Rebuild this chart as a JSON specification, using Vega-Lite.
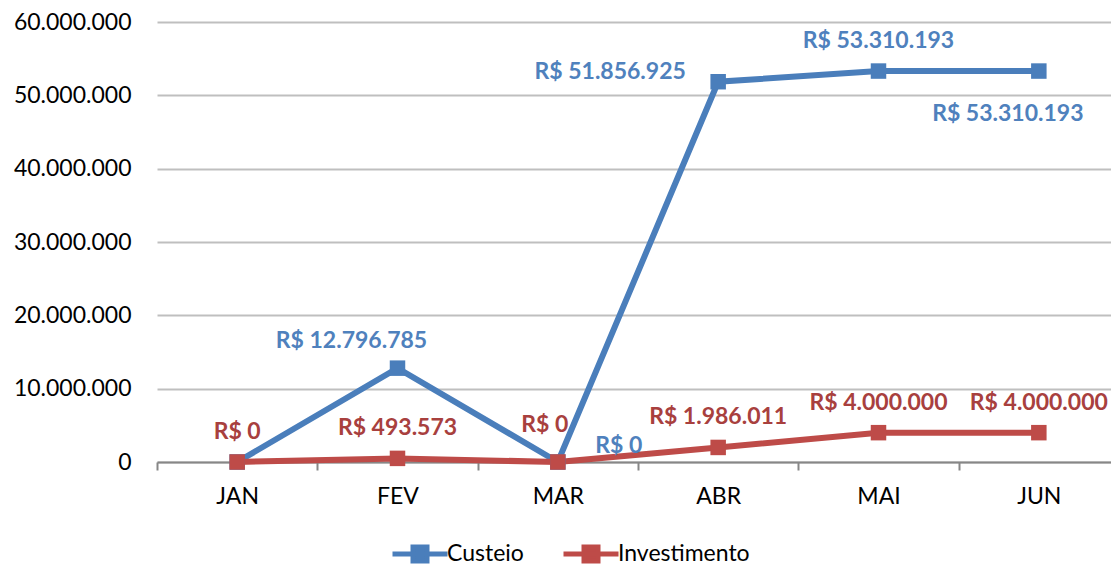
{
  "$schema": "https://vega.github.io/schema/vega-lite/v6.json",
  "autosize": "none",
  "width": 954,
  "height": 440,
  "padding": {"left": 157, "top": 22, "right": 0, "bottom": 102},
  "background": "white",
  "config": {
    "locale": {"number": {"decimal": ",", "thousands": ".", "grouping": [3], "currency": ["R$ ", ""]}},
    "view": {"stroke": null},
    "font": "Lato"
  },
  "data": {
    "values": [
      {"mes": "JAN", "serie": "Custeio", "valor": 0},
      {"mes": "FEV", "serie": "Custeio", "valor": 12796785},
      {"mes": "MAR", "serie": "Custeio", "valor": 0},
      {"mes": "ABR", "serie": "Custeio", "valor": 51856925},
      {"mes": "MAI", "serie": "Custeio", "valor": 53310193},
      {"mes": "JUN", "serie": "Custeio", "valor": 53310193},
      {"mes": "JAN", "serie": "Investimento", "valor": 0},
      {"mes": "FEV", "serie": "Investimento", "valor": 493573},
      {"mes": "MAR", "serie": "Investimento", "valor": 0},
      {"mes": "ABR", "serie": "Investimento", "valor": 1986011},
      {"mes": "MAI", "serie": "Investimento", "valor": 4000000},
      {"mes": "JUN", "serie": "Investimento", "valor": 4000000}
    ]
  },
  "encoding": {
    "x": {
      "field": "mes", "type": "nominal",
      "sort": ["JAN", "FEV", "MAR", "ABR", "MAI", "JUN"],
      "scale": {"paddingInner": 0, "paddingOuter": 0, "range": [0, 962]},
      "axis": {
        "title": null, "labelAngle": 0, "grid": false,
        "domainColor": "#878787", "domainWidth": 2,
        "tickColor": "#878787", "tickWidth": 2, "tickSize": 8, "tickBand": "extent",
        "labelFontSize": 23, "labelColor": "#000000", "labelPadding": 15, "labelFont": "Lato"
      }
    },
    "y": {
      "field": "valor", "type": "quantitative",
      "scale": {"domain": [0, 60000000], "nice": false},
      "axis": {
        "title": null, "values": [0, 10000000, 20000000, 30000000, 40000000, 50000000, 60000000],
        "format": ",.0f", "domain": false, "ticks": false,
        "gridColor": "#BFBFBF", "gridWidth": 2,
        "labelFontSize": 23, "labelColor": "#000000", "labelPadding": 26, "labelFont": "Lato"
      }
    }
  },
  "layer": [
    {
      "mark": {"type": "line", "strokeWidth": 6},
      "encoding": {
        "color": {
          "field": "serie", "type": "nominal",
          "scale": {"domain": ["Custeio", "Investimento"], "range": ["#4A7EBB", "#BE4B48"]},
          "legend": {
            "title": null, "orient": "none", "direction": "horizontal",
            "legendX": 248, "legendY": 517,
            "symbolType": "M-2.2,0H2.2M-0.56,-0.56H0.56V0.56H-0.56Z",
            "symbolSize": 625, "symbolStrokeWidth": 5,
            "labelFontSize": 23, "labelFont": "Lato", "labelColor": "#000000", "labelOffset": 12,
            "columnPadding": 29,
            "encode": {"symbols": {"update": {"fill": {"scale": "color", "field": "value"}, "stroke": {"scale": "color", "field": "value"}, "opacity": {"value": 1}, "strokeWidth": {"value": 5}}}}
          }
        }
      }
    },
    {
      "mark": {"type": "point", "shape": "square", "filled": true, "size": 240, "opacity": 1},
      "encoding": {"color": {"field": "serie", "type": "nominal"}}
    },
    {
      "transform": [{"filter": "!(datum.serie == 'Custeio' && (datum.mes == 'JAN' || datum.mes == 'FEV' || datum.mes == 'MAR' || datum.mes == 'ABR' || datum.mes == 'JUN')) && !(datum.serie == 'Investimento' && datum.mes == 'MAR')"}],
      "mark": {"type": "text", "fontWeight": "bold", "fontSize": 23, "font": "Lato", "dy": -30, "baseline": "middle"},
      "encoding": {
        "text": {"field": "valor", "type": "quantitative", "format": "$,.0f"},
        "color": {"condition": {"test": "datum.serie == 'Custeio'", "value": "#4F81BD"}, "value": "#A8403E"}
      }
    },
    {
      "transform": [{"filter": "datum.serie == 'Investimento' && datum.mes == 'MAR'"}],
      "mark": {"type": "text", "fontWeight": "bold", "fontSize": 23, "font": "Lato", "dx": -13, "dy": -37, "baseline": "middle", "color": "#A8403E"},
      "encoding": {"text": {"field": "valor", "type": "quantitative", "format": "$,.0f"}}
    },
    {
      "transform": [{"filter": "datum.serie == 'Custeio' && datum.mes == 'MAR'"}],
      "mark": {"type": "text", "fontWeight": "bold", "fontSize": 23, "font": "Lato", "dx": 61, "dy": -16, "baseline": "middle", "color": "#4F81BD"},
      "encoding": {"text": {"field": "valor", "type": "quantitative", "format": "$,.0f"}}
    },
    {
      "transform": [{"filter": "datum.serie == 'Custeio' && datum.mes == 'FEV'"}],
      "mark": {"type": "text", "fontWeight": "bold", "fontSize": 23, "font": "Lato", "dx": -46, "dy": -27, "baseline": "middle", "color": "#4F81BD"},
      "encoding": {"text": {"field": "valor", "type": "quantitative", "format": "$,.0f"}}
    },
    {
      "transform": [{"filter": "datum.serie == 'Custeio' && datum.mes == 'ABR'"}],
      "mark": {"type": "text", "fontWeight": "bold", "fontSize": 23, "font": "Lato", "dx": -108, "dy": -10, "baseline": "middle", "color": "#4F81BD"},
      "encoding": {"text": {"field": "valor", "type": "quantitative", "format": "$,.0f"}}
    },
    {
      "transform": [{"filter": "datum.serie == 'Custeio' && datum.mes == 'JUN'"}],
      "mark": {"type": "text", "fontWeight": "bold", "fontSize": 23, "font": "Lato", "dx": -31, "dy": 43, "baseline": "middle", "color": "#4F81BD"},
      "encoding": {"text": {"field": "valor", "type": "quantitative", "format": "$,.0f"}}
    }
  ]
}
